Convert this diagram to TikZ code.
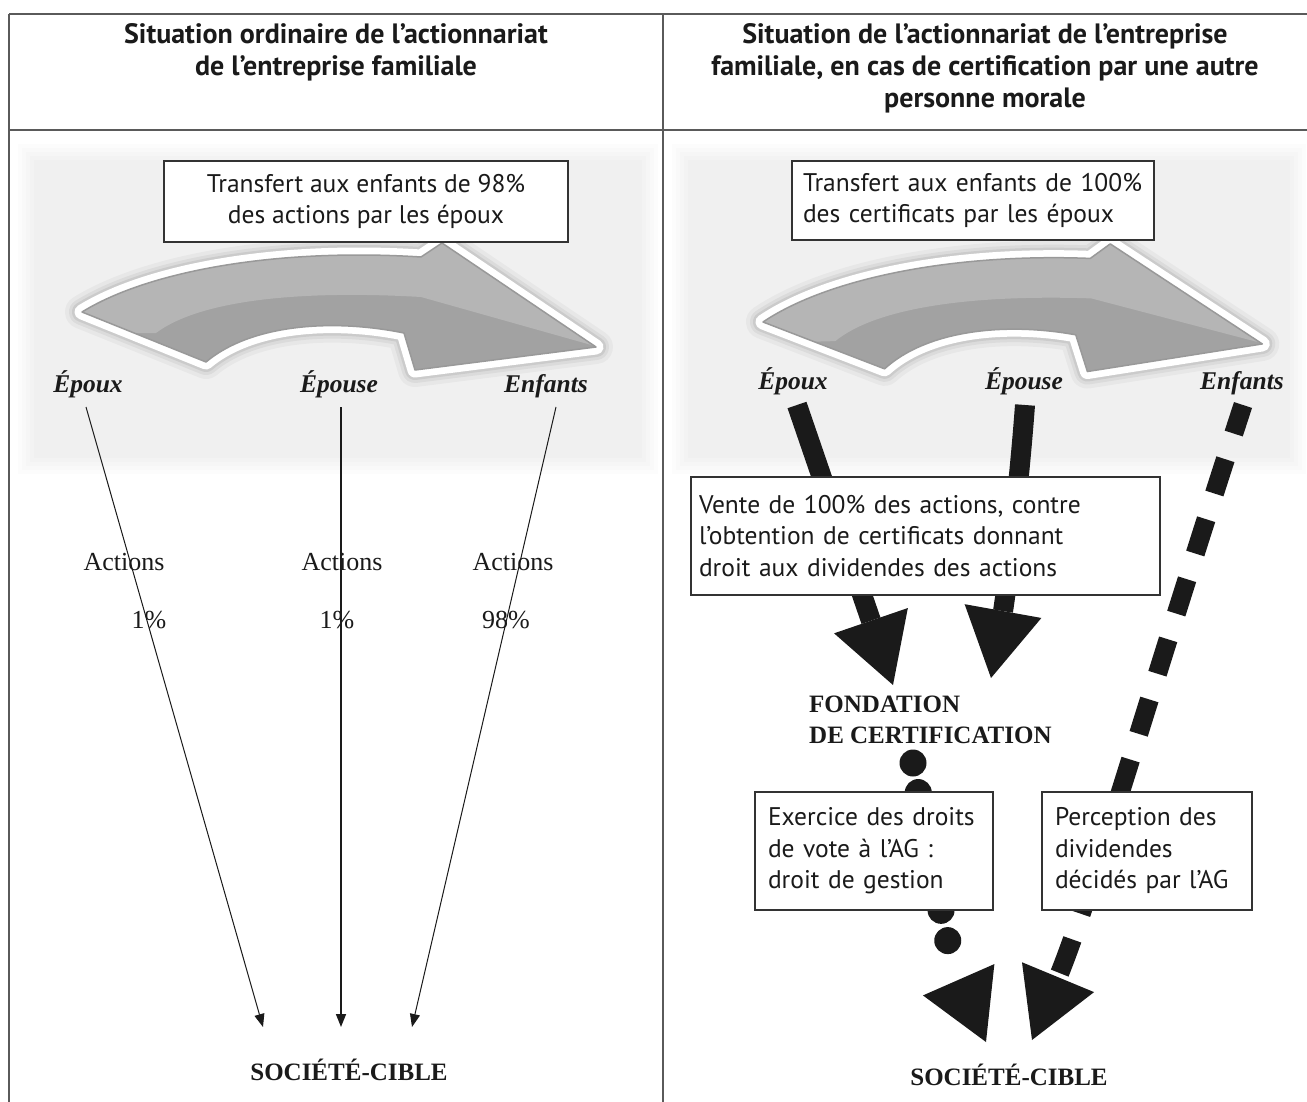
\documentclass[tikz,border=0pt]{standalone}
\usepackage{fontspec}
\setmainfont{Liberation Serif}
\setsansfont{PT Sans}
\usetikzlibrary{arrows.meta}
\definecolor{tblgray}{HTML}{5A5A5A}
\definecolor{boxline}{HTML}{333333}
\definecolor{inkblack}{HTML}{1A1A1A}
\definecolor{arrowdark}{HTML}{A2A2A2}
\definecolor{arrowlight}{HTML}{B5B5B5}
\definecolor{arrowrim}{HTML}{999999}
\def\famshape{(0,0) .. controls (68,-42) and (198,-64) .. (339,-55) -- (360,-69) -- (514,35) -- (333,58) -- (322,21) .. controls (248,6) and (168,13) .. (124,50) -- cycle}
\def\famlight{(74,21) .. controls (118,-12) and (218,-22) .. (339,-15) -- (520,36) -- (540,-110) -- (-40,-110) -- (-40,21) -- cycle}
\begin{document}
\begin{tikzpicture}[x=1pt,y=-1pt,
  tbl/.style={draw=tblgray,line width=2pt},
  hdr/.style={font=\sffamily\bfseries\fontsize{28}{32}\selectfont,align=center,text=inkblack,inner sep=0pt},
  txtbox/.style={draw=boxline,line width=1.3pt,fill=white,font=\sffamily\fontsize{25.5}{31.5}\selectfont,text=inkblack,inner ysep=0pt},
  who/.style={font=\bfseries\itshape\fontsize{25.5}{30}\selectfont,anchor=base,inner sep=0pt,text=inkblack},
  plain/.style={font=\fontsize{26}{30}\selectfont,anchor=base,inner sep=0pt,text=inkblack},
  capsb/.style={font=\bfseries\fontsize{25}{31}\selectfont,inner sep=0pt,text=inkblack},
  thinarrow/.style={draw=inkblack,line width=1pt,-{Triangle[length=13pt,width=10pt]}},
  fatarrow/.style={draw=inkblack,line width=20pt,-{Triangle[length=68pt,width=78pt,line width=0pt]}},
  shadowA/.style={draw=black,opacity=0.035,line width=34pt,line join=round},
  shadowB/.style={draw=black,opacity=0.05,line width=26pt,line join=round},
  shadowC/.style={draw=black,opacity=0.07,line width=20pt,line join=round},
  whiteedge/.style={draw=white,line width=15pt,line join=round},
  softbg/.style={fill=black,opacity=0.011},
  ]
\useasboundingbox (0,0) rectangle (1307,1102);
\fill[white] (0,0) rectangle (1307,1102);

% soft grey backgrounds behind the curved arrows
\foreach \i in {0,...,4}{
  \fill[softbg] (18+4*\i,144+4*\i) rectangle (658-4*\i,474-4*\i);
  \fill[softbg] (672+4*\i,144+4*\i) rectangle (1306-4*\i,474-4*\i);
}

% table
\draw[tbl] (9,14) -- (1307,14);
\draw[tbl] (9,130) -- (1307,130);
\draw[tbl] (9,14) -- (9,1102);
\draw[tbl] (663,14) -- (663,1102);

% headers
\node[hdr] (hL) at (336,52) {Situation ordinaire de l’actionnariat\\de l’entreprise familiale};
\node[hdr] (hR) at (985,68) {Situation de l’actionnariat de l’entreprise\\familiale, en cas de certification par une autre\\personne morale};

% curved grey arrows
\begin{scope}[shift={(82,312)}]
  \draw[shadowA] \famshape;
  \draw[shadowB] \famshape;
  \draw[shadowC] \famshape;
  \draw[whiteedge] \famshape;
  \fill[arrowdark] \famshape;
  \begin{scope}
    \clip \famshape;
    \fill[arrowlight] \famlight;
  \end{scope}
  \draw[arrowrim,line width=1.5pt,line join=round] \famshape;
\end{scope}
\begin{scope}[shift={(763,322)},rotate=1.5,xscale=0.97]
  \draw[shadowA] \famshape;
  \draw[shadowB] \famshape;
  \draw[shadowC] \famshape;
  \draw[whiteedge] \famshape;
  \fill[arrowdark] \famshape;
  \begin{scope}
    \clip \famshape;
    \fill[arrowlight] \famlight;
  \end{scope}
  \draw[arrowrim,line width=1.5pt,line join=round] \famshape;
\end{scope}

% ---------- left panel ----------
\node[who] (lEpoux) at (88,392) {Époux};
\node[who] (lEpouse) at (339,392) {Épouse};
\node[who] (lEnf) at (546,392) {Enfants};

\node[plain] (lAc1) at (124,570) {Actions};
\node[plain] (lAc2) at (342,570) {Actions};
\node[plain] (lAc3) at (513,570) {Actions};
\node[plain] (lP1) at (149,628) {1\%};
\node[plain] (lP2) at (337,628) {1\%};
\node[plain] (lP3) at (506,628) {98\%};

\node[capsb,anchor=base] (lSC) at (349,1080) {SOCIÉTÉ-CIBLE};

\coordinate (la1) at (86,407);
\coordinate (la2) at (341,407);
\coordinate (la3) at (556,407);
\coordinate (lz1) at (263,1027);
\coordinate (lz2) at (341,1027);
\coordinate (lz3) at (412,1027);
\draw[thinarrow] (la1) -- (lz1);
\draw[thinarrow,line width=1.6pt] (la2) -- (lz2);
\draw[thinarrow] (la3) -- (lz3);

\node[txtbox,minimum width=404pt,minimum height=81pt,align=center,inner xsep=0pt] (b1) at (366,201.5) {Transfert aux enfants de 98\%\\des actions par les époux};

% ---------- right panel ----------
\node[who] (rEpoux) at (793,389) {Époux};
\node[who] (rEpouse) at (1024,389) {Épouse};
\node[who] (rEnf) at (1242,389) {Enfants};

\node[capsb,align=left,anchor=west] (fond) at (809,719.5) {FONDATION\\DE CERTIFICATION};
\node[capsb,anchor=base] (rSC) at (1009,1085) {SOCIÉTÉ-CIBLE};

\coordinate (ra1) at (797,405);
\coordinate (rz1) at (893,685);
\draw[fatarrow] (ra1) -- (rz1);
\coordinate (ra2) at (1025,405);
\coordinate (rz2) at (991,678);
\draw[fatarrow] (ra2) .. controls (1018,500) and (1005,600) .. (rz2);
\coordinate (ra3) at (1243,405);
\coordinate (rz3) at (1032,1040);
\draw[fatarrow,line width=19pt,dash pattern=on 36pt off 27pt,dash phase=6pt] (ra3) .. controls (1150,690) and (1090,900) .. (rz3);
\coordinate (rd0) at (913,763);
\coordinate (rdz) at (986,1042);
\draw[fatarrow,line width=27pt,line cap=round,
  dash pattern=on 0pt off 30pt on 0pt off 30pt on 0pt off 30pt on 0pt off 30pt on 0pt off 30pt on 0pt off 31pt on 0pt off 300pt]
  (rd0) .. controls (930,860) and (950,960) .. (rdz);

\node[txtbox,text width=340pt,inner xsep=11pt,minimum height=79pt,align=left] (b2) at (973,200.5) {\mbox{Transfert aux enfants de 100\%}\\\mbox{des certificats par les époux}};
\node[txtbox,text width=453pt,inner xsep=8pt,minimum height=118pt,align=left] (b3) at (925.5,536) {\mbox{Vente de 100\% des actions, contre}\\\mbox{l’obtention de certificats donnant}\\\mbox{droit aux dividendes des actions}};
\node[txtbox,text width=212pt,inner xsep=13pt,minimum height=118pt,align=left] (b4) at (874,851) {\mbox{Exercice des droits}\\\mbox{de vote à l’AG :}\\\mbox{droit de gestion}};
\node[txtbox,text width=184pt,inner xsep=13pt,minimum height=118pt,align=left] (b5) at (1147,851) {\mbox{Perception des}\\\mbox{dividendes}\\\mbox{décidés par l’AG}};
\end{tikzpicture}
\end{document}
